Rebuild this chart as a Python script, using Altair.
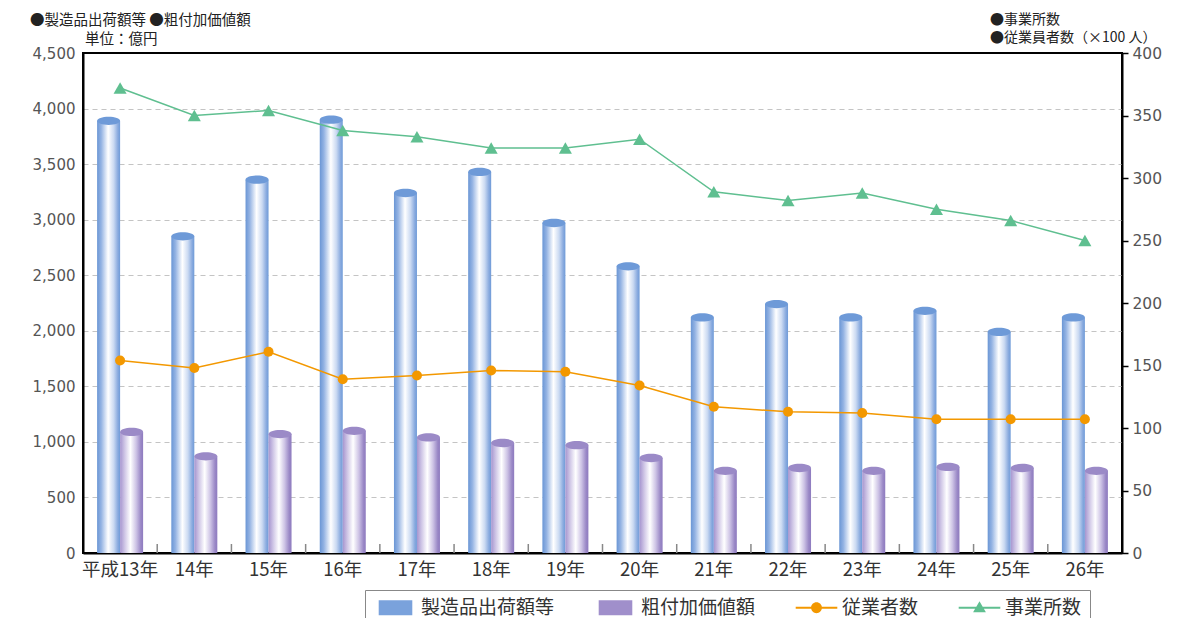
import altair as alt
import pandas as pd

years = ["平成13年", "14年", "15年", "16年", "17年", "18年", "19年",
         "20年", "21年", "22年", "23年", "24年", "25年", "26年"]
shipments = [3890, 2850, 3360, 3900, 3240, 3430, 2970, 2580, 2120, 2240, 2120, 2180, 1990, 2120]
value_added = [1090, 870, 1070, 1100, 1040, 990, 970, 855, 740, 765, 740, 775, 765, 740]
employees = [154, 148, 161, 139, 142, 146, 145, 134, 117, 113, 112, 107, 107, 107]
establishments = [372, 350, 354, 338, 333, 324, 324, 331, 289, 282, 288, 275, 266, 250]

series_names = ["製造品出荷額等", "粗付加価値額", "従業者数", "事業所数"]
series_colors = ["#7aa2dc", "#a08fcb", "#f39800", "#5fbf90"]

df = pd.DataFrame({
    "year": years,
    "shipments": shipments,
    "value_added": value_added,
    "employees": employees,
    "establishments": establishments,
})

FONT = "Noto Sans CJK JP"
NUMFONT = "DejaVu Sans"
W, H = 1039, 500
BW = 23

blue_grad = alt.Gradient(
    gradient="linear", x1=0, x2=1, y1=0, y2=0,
    stops=[
        alt.GradientStop(offset=0, color="#6a96d5"),
        alt.GradientStop(offset=0.18, color="#94b3e3"),
        alt.GradientStop(offset=0.48, color="#ffffff"),
        alt.GradientStop(offset=0.72, color="#cbdaf2"),
        alt.GradientStop(offset=0.9, color="#8aabdf"),
        alt.GradientStop(offset=1, color="#6f9bd8"),
    ],
)
purple_grad = alt.Gradient(
    gradient="linear", x1=0, x2=1, y1=0, y2=0,
    stops=[
        alt.GradientStop(offset=0, color="#a695cf"),
        alt.GradientStop(offset=0.2, color="#cfc6e6"),
        alt.GradientStop(offset=0.45, color="#ffffff"),
        alt.GradientStop(offset=0.7, color="#cdc3e5"),
        alt.GradientStop(offset=0.9, color="#9a88c6"),
        alt.GradientStop(offset=1, color="#8e7bbf"),
    ],
)

ellipse = "M-1,0 A1,0.36 0 1,1 1,0 A1,0.36 0 1,1 -1,0 Z"

x_enc = alt.X(
    "year:N", sort=years,
    scale=alt.Scale(paddingInner=0, paddingOuter=0),
    axis=alt.Axis(
        title=None, labelAngle=0, ticks=False, domainColor="black", domainWidth=2,
        labelFontSize=18.5, labelColor="#333", labelFont=FONT, labelPadding=7,
    ),
)

left_axis = alt.Axis(
    title=None, values=list(range(0, 4501, 500)),
    labelExpr="format(datum.value, ',')", grid=True,
    gridDash=[5, 4], gridColor="#c4c4c4", gridWidth=1.2,
    gridOpacity={"condition": {"test": "datum.value >= 4500 || datum.value <= 0", "value": 0}, "value": 1},
    ticks=False,
    domainColor="black", domainWidth=2, labelFontSize=15, labelColor="#555",
    labelFont=NUMFONT, labelPadding=8,
)
left_scale = alt.Scale(domain=[0, 4500])

right_axis = alt.Axis(
    title=None, orient="right", values=list(range(0, 401, 50)), grid=False,
    ticks=True, tickSize=6, tickColor="black", tickWidth=1.5,
    domainColor="black", domainWidth=2, labelFontSize=15.5, labelColor="#555",
    labelFont=NUMFONT, labelPadding=4,
)
right_scale = alt.Scale(domain=[0, 400])

base = alt.Chart(df)

bar_blue = base.mark_bar(width=BW, xOffset=-BW / 2, color=blue_grad).encode(
    x=x_enc, y=alt.Y("shipments:Q", scale=left_scale, axis=left_axis))
cap_blue = base.mark_point(shape=ellipse, size=BW * BW, filled=True, opacity=1,
                           color="#6e9ad8", strokeWidth=0, xOffset=-BW / 2).encode(
    x=x_enc, y=alt.Y("shipments:Q", scale=left_scale, axis=left_axis))
bar_purple = base.mark_bar(width=BW, xOffset=BW / 2, color=purple_grad).encode(
    x=x_enc, y=alt.Y("value_added:Q", scale=left_scale, axis=left_axis))
cap_purple = base.mark_point(shape=ellipse, size=BW * BW, filled=True, opacity=1,
                             color="#9b8ac7", strokeWidth=0, xOffset=BW / 2).encode(
    x=x_enc, y=alt.Y("value_added:Q", scale=left_scale, axis=left_axis))

ticks = base.transform_filter(alt.datum.year != years[0]).mark_rule(
    color="#888", strokeWidth=1.5).encode(
    x=alt.X("year:N", sort=years, bandPosition=0),
    y=alt.value(H - 9), y2=alt.value(H))

left = alt.layer(bar_blue, bar_purple, cap_blue, cap_purple, ticks)

line_orange = base.mark_line(
    color="#f39800", strokeWidth=1.5,
    point=alt.OverlayMarkDef(filled=True, shape="circle", size=100, color="#f39800", opacity=1),
).encode(x=x_enc, y=alt.Y("employees:Q", scale=right_scale, axis=right_axis))
line_green = base.mark_line(
    color="#5fbf90", strokeWidth=1.5,
    point=alt.OverlayMarkDef(filled=True, shape="triangle-up", size=170, color="#5fbf90", opacity=1),
).encode(x=x_enc, y=alt.Y("establishments:Q", scale=right_scale, axis=right_axis))

right = alt.layer(line_orange, line_green)

rect_path = "M-2.1,-0.94 H2.1 V0.94 H-2.1 Z"
line_circle = ("M-2.6,-0.11 H2.6 V0.11 H-2.6 Z "
               "M0.68,0 A0.68,0.68 0 1,1 -0.68,0 A0.68,0.68 0 1,1 0.68,0 Z")
line_tri = ("M-2.6,-0.11 H2.6 V0.11 H-2.6 Z "
            "M0,-0.8 L0.8,0.55 L-0.8,0.55 Z")

leg = alt.Legend(
    title=None, orient="none", legendX=282, legendY=537, direction="horizontal",
    columns=4, symbolSize=256, symbolOffset=13, labelFontSize=19, labelFont=FONT,
    labelColor="#333", labelOffset=16, columnPadding=38, padding=8, strokeColor="#888",
    symbolStrokeWidth=0, labelLimit=300,
)
legend_layer = alt.Chart(df).transform_filter("false").transform_calculate(
    series="'x'").mark_point(filled=True, opacity=1).encode(
    color=alt.Color("series:N", scale=alt.Scale(domain=series_names, range=series_colors), legend=leg),
    shape=alt.Shape("series:N", scale=alt.Scale(domain=series_names,
                                                range=[rect_path, rect_path, line_circle, line_tri]),
                    legend=leg),
)

note_df = pd.DataFrame({"a": [0]})


def note(txt, x, y, size):
    return alt.Chart(note_df).mark_text(
        text=txt, align="left", baseline="middle", fontSize=size, font=FONT, color="#222"
    ).encode(x=alt.value(x), y=alt.value(y))


notes = alt.layer(
    note("●製造品出荷額等 ●粗付加価値額", -53, -32, 14.5),
    note("単位：億円", 2, -13, 14.5),
    note("●事業所数", 907, -33, 14),
    note("●従業員者数（×100 人）", 907, -15, 14),
)

chart = alt.layer(left, right, legend_layer, notes).resolve_scale(
    y="independent"
).properties(
    width=W, height=H,
    autosize=alt.AutoSizeParams(type="none"),
    padding={"left": 75, "top": 45, "right": 59, "bottom": 65},
).configure_view(stroke="black", strokeWidth=2)

chart.save("out.html", embed_options={"renderer": "svg", "actions": False})
